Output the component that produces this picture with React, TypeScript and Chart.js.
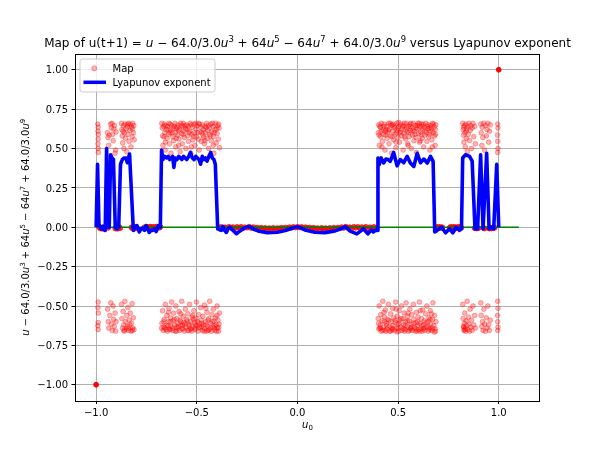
import React, { useEffect, useRef } from "react";
import { Chart, registerables } from "chart.js";
Chart.register(...registerables);

// ---------- axis ticks ----------
const xTickValues = [-1.0, -0.5, 0.0, 0.5, 1.0];
const xTickLabels = ["−1.0", "−0.5", "0.0", "0.5", "1.0"];
const yTickValues = [-1.0, -0.75, -0.5, -0.25, 0.0, 0.25, 0.5, 0.75, 1.0];
const yTickLabels = ["−1.00", "−0.75", "−0.50", "−0.25", "0.00", "0.25", "0.50", "0.75", "1.00"];

// ---------- Map scatter (u0, u_n) ----------
const mapUpperLeft: number[][] = [
  [-0.992,0.655],[-0.99,0.635],[-0.991,0.61],[-0.989,0.59],[-0.99,0.56],[-0.991,0.53],[-0.99,0.50],[-0.989,0.475],
  [-0.944,0.60],[-0.941,0.57],[-0.938,0.52],[-0.935,0.585],[-0.928,0.655],[-0.925,0.63],[-0.921,0.66],[-0.918,0.59],
  [-0.915,0.55],[-0.912,0.625],[-0.909,0.645],[-0.906,0.47],[-0.903,0.49],[-0.901,0.605],
  [-0.874,0.66],[-0.872,0.62],[-0.870,0.58],[-0.868,0.535],[-0.865,0.645],[-0.862,0.50],[-0.860,0.60],[-0.857,0.655],
  [-0.854,0.565],[-0.851,0.625],[-0.848,0.48],[-0.845,0.64],[-0.842,0.59],[-0.839,0.66],[-0.836,0.545],[-0.833,0.615],
  [-0.830,0.65],[-0.827,0.51],[-0.824,0.635],[-0.821,0.575],[-0.818,0.66],[-0.815,0.60],[-0.813,0.645],[-0.811,0.555],
  [-0.866,0.61],[-0.843,0.655],[-0.82,0.625],
  [-0.672,0.63],[-0.670,0.58],[-0.668,0.52],[-0.661,0.655],[-0.659,0.60],[-0.657,0.49],[-0.651,0.62],[-0.648,0.565],
  [-0.646,0.64],[-0.640,0.59],[-0.638,0.66],[-0.636,0.53],[-0.630,0.615],[-0.628,0.47],[-0.625,0.645],[-0.619,0.575],
  [-0.617,0.63],[-0.615,0.55],[-0.609,0.66],[-0.606,0.60],[-0.604,0.51],[-0.598,0.635],[-0.596,0.585],[-0.593,0.65],
  [-0.588,0.56],[-0.585,0.62],[-0.583,0.48],[-0.577,0.645],[-0.575,0.595],[-0.572,0.53],[-0.567,0.66],[-0.564,0.61],
  [-0.562,0.57],[-0.556,0.625],[-0.554,0.50],[-0.551,0.65],[-0.546,0.58],[-0.543,0.64],[-0.541,0.545],[-0.535,0.61],
  [-0.533,0.66],[-0.530,0.47],[-0.525,0.59],[-0.522,0.635],[-0.520,0.555],[-0.514,0.655],[-0.512,0.60],[-0.509,0.52],
  [-0.504,0.625],[-0.501,0.575],[-0.499,0.645],[-0.493,0.56],[-0.491,0.66],[-0.488,0.49],[-0.483,0.605],[-0.480,0.635],
  [-0.478,0.545],[-0.472,0.65],[-0.470,0.585],[-0.467,0.62],[-0.462,0.53],[-0.459,0.64],[-0.457,0.60],[-0.451,0.66],
  [-0.449,0.565],[-0.446,0.615],[-0.441,0.50],[-0.438,0.63],[-0.436,0.59],[-0.430,0.655],[-0.428,0.55],[-0.425,0.605],
  [-0.420,0.64],[-0.417,0.575],[-0.415,0.47],[-0.409,0.62],[-0.407,0.66],[-0.404,0.535],[-0.399,0.595],[-0.396,0.645],
  [-0.393,0.56],[-0.389,0.63],[-0.387,0.505],
  [-0.665,0.64],[-0.633,0.60],[-0.601,0.625],[-0.570,0.64],[-0.538,0.60],[-0.506,0.66],[-0.475,0.60],[-0.443,0.645],[-0.412,0.60],
  [-0.674,0.66],[-0.663,0.575],[-0.654,0.645],[-0.643,0.62],[-0.632,0.655],[-0.622,0.60],[-0.612,0.64],[-0.602,0.565],
  [-0.591,0.615],[-0.580,0.66],[-0.569,0.59],[-0.559,0.645],[-0.548,0.62],[-0.528,0.65],[-0.517,0.575],[-0.496,0.60],
  [-0.486,0.655],[-0.465,0.57],[-0.454,0.635],[-0.433,0.58],[-0.422,0.66],[-0.401,0.625],[-0.391,0.655],[-0.656,0.54],
  [-0.590,0.52],[-0.527,0.51],[-0.460,0.55],[-0.418,0.52],
];

const mapUpperRight: number[][] = [
  [0.402,0.60],[0.404,0.65],[0.407,0.52],[0.412,0.635],[0.414,0.575],[0.417,0.66],[0.422,0.545],[0.425,0.62],
  [0.427,0.59],[0.432,0.655],[0.435,0.49],[0.437,0.61],[0.443,0.64],[0.445,0.565],[0.448,0.60],[0.453,0.66],
  [0.455,0.53],[0.458,0.625],[0.463,0.58],[0.466,0.645],[0.468,0.47],[0.473,0.61],[0.476,0.655],[0.478,0.555],
  [0.484,0.63],[0.486,0.59],[0.489,0.505],[0.494,0.66],[0.496,0.615],[0.499,0.57],[0.504,0.64],[0.507,0.54],
  [0.509,0.60],[0.514,0.655],[0.517,0.58],[0.519,0.625],[0.525,0.49],[0.527,0.645],[0.530,0.595],[0.535,0.62],
  [0.537,0.56],[0.540,0.66],[0.545,0.605],[0.548,0.53],[0.550,0.64],[0.555,0.575],[0.558,0.655],[0.561,0.615],
  [0.566,0.50],[0.568,0.63],[0.571,0.585],[0.576,0.66],[0.579,0.55],[0.581,0.61],[0.586,0.645],[0.589,0.57],
  [0.591,0.475],[0.597,0.625],[0.599,0.66],[0.602,0.595],[0.607,0.54],[0.609,0.64],[0.612,0.605],[0.617,0.655],
  [0.620,0.565],[0.622,0.62],[0.627,0.51],[0.630,0.635],[0.632,0.585],[0.638,0.66],[0.640,0.60],[0.643,0.545],
  [0.648,0.625],[0.650,0.65],[0.653,0.575],[0.658,0.49],[0.661,0.61],[0.663,0.645],[0.668,0.555],[0.671,0.66],
  [0.674,0.60],[0.679,0.635],[0.681,0.58],[0.684,0.52],[0.688,0.65],
  [0.410,0.64],[0.440,0.62],[0.470,0.65],[0.500,0.63],[0.530,0.66],[0.560,0.64],[0.590,0.63],[0.620,0.64],[0.655,0.63],[0.685,0.62],
  [0.405,0.585],[0.416,0.61],[0.429,0.64],[0.439,0.585],[0.451,0.615],[0.461,0.66],[0.471,0.575],[0.481,0.64],
  [0.492,0.60],[0.502,0.665],[0.512,0.605],[0.522,0.64],[0.533,0.575],[0.543,0.63],[0.553,0.60],[0.564,0.66],
  [0.574,0.615],[0.584,0.59],[0.595,0.645],[0.605,0.66],[0.615,0.585],[0.625,0.655],[0.635,0.61],[0.646,0.64],
  [0.656,0.59],[0.666,0.625],[0.676,0.655],[0.686,0.59],[0.420,0.51],[0.490,0.54],[0.550,0.52],[0.610,0.55],[0.670,0.51],
  [0.821,0.66],[0.823,0.62],[0.825,0.585],[0.827,0.54],[0.829,0.645],[0.832,0.60],[0.834,0.51],[0.836,0.655],
  [0.839,0.565],[0.841,0.625],[0.844,0.48],[0.846,0.64],[0.849,0.59],[0.852,0.66],[0.855,0.55],[0.858,0.615],
  [0.861,0.645],[0.865,0.50],[0.868,0.63],[0.872,0.66],[0.876,0.575],[0.880,0.64],[0.884,0.53],[0.826,0.635],[0.838,0.61],
  [0.911,0.655],[0.913,0.60],[0.916,0.52],[0.918,0.635],[0.921,0.57],[0.925,0.66],[0.930,0.49],[0.934,0.645],
  [0.938,0.58],[0.942,0.62],[0.946,0.66],[0.950,0.54],[0.954,0.61],[0.958,0.65],
  [0.995,0.655],[0.996,0.63],[0.994,0.585],[0.995,0.545],[0.996,0.50],[0.995,0.475],
];

const mapLowerLeft: number[][] = [
  [-0.99,-0.475],[-0.991,-0.51],[-0.989,-0.545],[-0.99,-0.605],[-0.992,-0.625],[-0.99,-0.65],
  [-0.943,-0.52],[-0.94,-0.60],[-0.937,-0.64],[-0.932,-0.56],[-0.927,-0.48],[-0.924,-0.615],[-0.92,-0.655],
  [-0.916,-0.50],[-0.913,-0.585],[-0.91,-0.63],[-0.906,-0.545],[-0.903,-0.66],[-0.901,-0.60],
  [-0.874,-0.49],[-0.872,-0.58],[-0.869,-0.64],[-0.866,-0.535],[-0.863,-0.62],[-0.86,-0.66],[-0.857,-0.47],
  [-0.854,-0.60],[-0.851,-0.645],[-0.848,-0.56],[-0.845,-0.63],[-0.842,-0.51],[-0.839,-0.655],[-0.836,-0.59],
  [-0.833,-0.62],[-0.83,-0.545],[-0.827,-0.66],[-0.824,-0.61],[-0.821,-0.485],[-0.818,-0.64],[-0.815,-0.575],
  [-0.812,-0.65],[-0.862,-0.655],[-0.84,-0.64],[-0.82,-0.655],
  [-0.673,-0.61],[-0.670,-0.53],[-0.667,-0.655],[-0.662,-0.585],[-0.659,-0.64],[-0.656,-0.49],[-0.651,-0.625],
  [-0.649,-0.56],[-0.646,-0.66],[-0.641,-0.60],[-0.638,-0.515],[-0.636,-0.645],[-0.630,-0.575],[-0.628,-0.63],
  [-0.625,-0.475],[-0.620,-0.655],[-0.617,-0.595],[-0.615,-0.545],[-0.610,-0.62],[-0.607,-0.66],[-0.604,-0.50],
  [-0.599,-0.58],[-0.596,-0.64],[-0.594,-0.61],[-0.588,-0.535],[-0.586,-0.655],[-0.583,-0.59],[-0.578,-0.625],
  [-0.575,-0.47],[-0.573,-0.645],[-0.567,-0.565],[-0.565,-0.605],[-0.562,-0.66],[-0.557,-0.52],[-0.554,-0.635],
  [-0.551,-0.585],[-0.546,-0.655],[-0.544,-0.55],[-0.541,-0.615],[-0.536,-0.49],[-0.533,-0.645],[-0.530,-0.60],
  [-0.525,-0.66],[-0.523,-0.57],[-0.520,-0.63],[-0.515,-0.53],[-0.512,-0.605],[-0.509,-0.65],[-0.504,-0.58],
  [-0.502,-0.475],[-0.499,-0.625],[-0.494,-0.66],[-0.491,-0.555],[-0.488,-0.61],[-0.483,-0.64],[-0.481,-0.51],
  [-0.478,-0.59],[-0.472,-0.655],[-0.470,-0.565],[-0.467,-0.62],[-0.462,-0.495],[-0.460,-0.645],[-0.457,-0.60],
  [-0.452,-0.66],[-0.449,-0.54],[-0.446,-0.63],[-0.441,-0.58],[-0.439,-0.65],[-0.436,-0.47],[-0.431,-0.61],
  [-0.428,-0.66],[-0.425,-0.555],[-0.420,-0.635],[-0.418,-0.52],[-0.415,-0.595],[-0.410,-0.655],[-0.407,-0.575],
  [-0.404,-0.62],[-0.399,-0.50],[-0.397,-0.64],[-0.394,-0.59],[-0.389,-0.615],[-0.387,-0.545],
  [-0.664,-0.635],[-0.633,-0.65],[-0.601,-0.635],[-0.570,-0.62],[-0.539,-0.655],[-0.507,-0.64],[-0.476,-0.63],
  [-0.444,-0.655],[-0.413,-0.64],[-0.392,-0.66],
  [-0.675,-0.64],[-0.664,-0.60],[-0.653,-0.65],[-0.643,-0.625],[-0.632,-0.60],[-0.622,-0.64],[-0.612,-0.585],
  [-0.601,-0.66],[-0.591,-0.63],[-0.580,-0.60],[-0.569,-0.645],[-0.559,-0.615],[-0.548,-0.595],[-0.538,-0.625],
  [-0.527,-0.645],[-0.517,-0.585],[-0.506,-0.62],[-0.496,-0.60],[-0.486,-0.635],[-0.475,-0.61],[-0.464,-0.66],
  [-0.454,-0.62],[-0.443,-0.59],[-0.433,-0.64],[-0.423,-0.60],[-0.412,-0.625],[-0.402,-0.66],[-0.391,-0.635],
  [-0.640,-0.54],[-0.580,-0.55],[-0.520,-0.56],[-0.455,-0.515],[-0.400,-0.56],
];

const mapLowerRight: number[][] = [
  [0.401,-0.58],[0.404,-0.645],[0.406,-0.50],[0.411,-0.62],[0.414,-0.555],[0.416,-0.66],[0.421,-0.595],[0.424,-0.47],
  [0.427,-0.635],[0.432,-0.57],[0.434,-0.655],[0.437,-0.525],[0.442,-0.61],[0.445,-0.645],[0.447,-0.585],[0.452,-0.49],
  [0.455,-0.63],[0.458,-0.66],[0.463,-0.55],[0.465,-0.60],[0.468,-0.64],[0.473,-0.515],[0.475,-0.625],[0.478,-0.575],
  [0.483,-0.655],[0.486,-0.605],[0.488,-0.475],[0.494,-0.64],[0.496,-0.565],[0.499,-0.615],[0.504,-0.66],[0.506,-0.53],
  [0.509,-0.59],[0.514,-0.635],[0.517,-0.50],[0.519,-0.655],[0.524,-0.58],[0.527,-0.62],[0.530,-0.545],[0.535,-0.65],
  [0.537,-0.60],[0.540,-0.48],[0.545,-0.63],[0.547,-0.565],[0.550,-0.66],[0.555,-0.595],[0.558,-0.52],[0.560,-0.64],
  [0.565,-0.615],[0.568,-0.555],[0.571,-0.655],[0.576,-0.49],[0.578,-0.585],[0.581,-0.635],[0.586,-0.66],[0.589,-0.605],
  [0.591,-0.54],[0.596,-0.625],[0.599,-0.57],[0.601,-0.65],[0.606,-0.475],[0.609,-0.61],[0.612,-0.645],[0.617,-0.58],
  [0.619,-0.66],[0.622,-0.525],[0.627,-0.62],[0.630,-0.595],[0.632,-0.655],[0.637,-0.55],[0.640,-0.635],[0.643,-0.50],
  [0.648,-0.60],[0.650,-0.66],[0.653,-0.575],[0.658,-0.64],[0.660,-0.53],[0.663,-0.615],[0.668,-0.655],[0.671,-0.585],
  [0.673,-0.48],[0.678,-0.625],[0.681,-0.56],[0.684,-0.645],[0.688,-0.60],
  [0.409,-0.64],[0.440,-0.66],[0.470,-0.65],[0.501,-0.64],[0.532,-0.66],[0.563,-0.645],[0.594,-0.66],[0.625,-0.645],
  [0.656,-0.65],[0.686,-0.66],
  [0.403,-0.61],[0.413,-0.64],[0.423,-0.655],[0.433,-0.60],[0.444,-0.625],[0.454,-0.59],[0.464,-0.66],[0.474,-0.645],
  [0.485,-0.59],[0.495,-0.665],[0.505,-0.61],[0.515,-0.58],[0.526,-0.645],[0.536,-0.625],[0.546,-0.595],[0.557,-0.655],
  [0.567,-0.635],[0.577,-0.61],[0.588,-0.645],[0.598,-0.60],[0.608,-0.66],[0.618,-0.625],[0.629,-0.64],[0.639,-0.605],
  [0.649,-0.63],[0.659,-0.585],[0.670,-0.64],[0.680,-0.665],[0.430,-0.54],[0.490,-0.52],[0.550,-0.545],[0.610,-0.53],[0.665,-0.55],
  [0.821,-0.49],[0.823,-0.58],[0.825,-0.63],[0.827,-0.655],[0.829,-0.61],[0.831,-0.545],[0.834,-0.64],[0.836,-0.66],
  [0.838,-0.595],[0.840,-0.625],[0.843,-0.47],[0.846,-0.65],[0.849,-0.57],[0.852,-0.615],[0.855,-0.66],[0.858,-0.52],
  [0.861,-0.635],[0.865,-0.59],[0.868,-0.655],[0.872,-0.50],[0.876,-0.62],[0.880,-0.56],[0.884,-0.64],[0.830,-0.65],[0.826,-0.635],
  [0.911,-0.48],[0.913,-0.56],[0.916,-0.63],[0.919,-0.60],[0.922,-0.655],[0.926,-0.52],[0.930,-0.615],[0.934,-0.66],
  [0.938,-0.575],[0.942,-0.64],[0.946,-0.50],[0.950,-0.62],[0.954,-0.655],[0.958,-0.59],
  [0.995,-0.47],[0.996,-0.515],[0.994,-0.56],[0.995,-0.60],[0.996,-0.635],[0.995,-0.655],
];

// orbits settling near zero (many iterates stacked)
const mapNearZero: number[][] = [
  [-0.985,0.0],[-0.98,-0.008],[-0.975,-0.004],[-0.97,-0.01],[-0.965,-0.006],[-0.96,0.002],[-0.955,-0.008],
  [-0.94,-0.004],[-0.905,-0.008],[-0.9,0.0],[-0.895,-0.01],[-0.89,-0.004],[-0.885,0.002],[-0.88,-0.006],
  [-0.825,0.0],[-0.82,-0.008],[-0.815,-0.004],[-0.81,-0.01],[-0.805,0.002],[-0.8,-0.006],
  [-0.76,0.0],[-0.755,-0.008],[-0.75,0.003],[-0.745,-0.005],[-0.74,0.002],[-0.735,-0.008],[-0.73,0.004],
  [-0.725,-0.003],[-0.72,0.002],[-0.715,-0.006],[-0.71,0.003],[-0.705,-0.002],[-0.7,0.004],[-0.695,-0.005],
  [-0.69,0.002],[-0.685,-0.003],[-0.68,0.003],
  [-0.39,-0.004],[-0.38,0.002],[-0.37,-0.006],[-0.36,0.0],[-0.35,-0.008],[-0.34,0.003],[-0.33,-0.003],[-0.32,0.001],
  [-0.31,-0.006],[-0.3,0.002],[-0.29,-0.004],[-0.28,0.003],[-0.27,-0.007],[-0.26,0.0],[-0.25,-0.003],[-0.24,0.004],
  [-0.23,-0.005],[-0.22,0.001],[-0.21,-0.006],[-0.2,-0.002],[-0.19,-0.008],[-0.18,-0.003],[-0.17,-0.009],[-0.16,-0.004],
  [-0.15,-0.01],[-0.14,-0.005],[-0.13,-0.009],[-0.12,-0.004],[-0.11,-0.01],[-0.1,-0.005],[-0.09,-0.008],[-0.08,-0.003],
  [-0.07,-0.007],[-0.06,-0.002],[-0.05,-0.006],[-0.04,0.0],[-0.03,-0.004],[-0.02,0.002],[-0.01,-0.002],[0.0,0.003],
  [0.01,-0.002],[0.02,0.002],[0.03,-0.004],[0.04,0.0],[0.05,-0.006],[0.06,-0.002],[0.07,-0.007],[0.08,-0.003],
  [0.09,-0.008],[0.1,-0.005],[0.11,-0.01],[0.12,-0.004],[0.13,-0.009],[0.14,-0.005],[0.15,-0.01],[0.16,-0.004],
  [0.17,-0.009],[0.18,-0.003],[0.19,-0.008],[0.2,-0.002],[0.21,-0.006],[0.22,0.001],[0.23,-0.005],[0.24,0.004],
  [0.25,-0.003],[0.26,0.0],[0.27,-0.007],[0.28,0.003],[0.29,-0.004],[0.3,0.002],[0.31,-0.006],[0.32,0.001],
  [0.33,-0.003],[0.34,0.003],[0.35,-0.008],[0.36,0.0],[0.37,-0.006],[0.38,0.002],[0.39,-0.004],
  [0.69,0.002],[0.695,-0.005],[0.7,0.003],[0.705,-0.003],[0.71,0.002],[0.715,-0.006],[0.72,0.0],
  [0.755,-0.004],[0.76,0.002],[0.765,-0.006],[0.77,0.003],[0.775,-0.003],[0.78,0.002],[0.785,-0.007],[0.79,0.001],
  [0.795,-0.004],[0.8,0.003],[0.805,-0.005],[0.81,0.002],[0.815,-0.003],
  [0.88,-0.006],[0.885,0.0],[0.89,-0.008],[0.895,-0.003],[0.9,-0.006],[0.925,-0.004],[0.93,-0.008],
  [0.95,-0.005],[0.955,-0.009],[0.96,-0.003],[0.965,-0.007],[0.97,-0.002],[0.975,-0.006],[0.98,-0.003],
];

const mapFixedPoints: number[][] = [[-1.0, -1.0], [1.0, 1.0]];

// ---------- Lyapunov exponent ----------
const lyapU0 = [
  -1.0, -0.993, -0.986, -0.98, -0.974, -0.968, -0.962, -0.955, -0.948, -0.941, -0.935, -0.928, -0.921, -0.914,
  -0.905, -0.897, -0.888, -0.879, -0.87, -0.862, -0.853, -0.845, -0.834, -0.815, -0.806, -0.797, -0.786, -0.777,
  -0.769, -0.76, -0.752, -0.744, -0.736, -0.728, -0.719, -0.71, -0.702, -0.691, -0.681,
  -0.675, -0.668, -0.66, -0.65, -0.642, -0.635, -0.627, -0.62, -0.614, -0.607, -0.598, -0.59, -0.582, -0.574,
  -0.566, -0.558, -0.55, -0.54, -0.531, -0.522, -0.513, -0.505, -0.497, -0.489, -0.481, -0.473, -0.465, -0.457,
  -0.449, -0.44, -0.431, -0.423, -0.415, -0.408,
  -0.396, -0.387, -0.378, -0.37, -0.362, -0.353, -0.345, -0.337, -0.32, -0.303, -0.287, -0.27, -0.254, -0.237,
  -0.217, -0.19, -0.15, -0.1, -0.06, -0.03, 0.0, 0.037, 0.087, 0.137, 0.187, 0.22, 0.237,
  0.262, 0.295, 0.328, 0.35, 0.367, 0.377, 0.387, 0.396,
  0.4, 0.406, 0.416, 0.428, 0.44, 0.45, 0.461, 0.478, 0.495, 0.511, 0.528, 0.545, 0.561, 0.578, 0.595, 0.611,
  0.628, 0.645, 0.661, 0.674,
  0.682, 0.694, 0.716, 0.736, 0.756, 0.772, 0.789, 0.805, 0.815,
  0.821, 0.835, 0.855, 0.868, 0.882, 0.895, 0.91, 0.922, 0.94, 0.952, 0.962, 0.975, 0.99, 1.0,
];
const lyapExponent = [
  0.0, 0.40, 0.02, 0.0, -0.01, 0.005, -0.015, -0.02, 0.50, 0.0, 0.0, 0.46, 0.44, 0.43,
  0.0, -0.01, 0.0, 0.40, 0.43, 0.44, 0.44, 0.41, 0.465, -0.02, 0.005, 0.01, -0.03, -0.01,
  -0.005, -0.02, 0.01, -0.01, -0.033, -0.02, -0.02, -0.01, -0.027, 0.01, 0.0,
  0.49, 0.43, 0.45, 0.44, 0.45, 0.43, 0.44, 0.45, 0.38, 0.44, 0.43, 0.45, 0.44, 0.43,
  0.45, 0.44, 0.43, 0.45, 0.475, 0.44, 0.43, 0.45, 0.44, 0.43, 0.40, 0.45, 0.43, 0.44,
  0.42, 0.45, 0.475, 0.44, 0.43, 0.40,
  -0.01, -0.016, -0.02, 0.005, -0.02, -0.033, -0.01, 0.0, -0.02, -0.041, -0.025, -0.01, 0.0, 0.005,
  -0.013, -0.025, -0.034, -0.032, -0.021, -0.008, 0.004, -0.017, -0.032, -0.034, -0.023, -0.008, 0.004,
  -0.025, -0.042, -0.01, -0.042, -0.017, -0.03, -0.02, -0.02,
  0.44, 0.397, 0.44, 0.408, 0.433, 0.43, 0.418, 0.475, 0.39, 0.43, 0.41, 0.45, 0.408, 0.386, 0.47, 0.41,
  0.433, 0.408, 0.45, 0.418,
  -0.03, -0.02, 0.0, -0.035, -0.01, -0.035, 0.0, -0.02, -0.01,
  0.44, 0.46, 0.45, 0.42, -0.01, -0.01, 0.46, -0.01, 0.47, -0.01, 0.0, -0.01, 0.40, 0.0,
];

// ---------- zero reference line ----------
const zeroLineU0 = [-1.0, 1.1];
const zeroLineVal = [0.0, 0.0];

// ---------- text ----------
type Seg = { t: string; it?: boolean; sup?: boolean; sub?: boolean };
const polySegs: Seg[] = [
  { t: "u", it: true }, { t: " − 64.0/3.0" }, { t: "u", it: true }, { t: "3", sup: true },
  { t: " + 64" }, { t: "u", it: true }, { t: "5", sup: true },
  { t: " − 64" }, { t: "u", it: true }, { t: "7", sup: true },
  { t: " + 64.0/3.0" }, { t: "u", it: true }, { t: "9", sup: true },
];
const titleSegs: Seg[] = [{ t: "Map of u(t+1) = " }, ...polySegs, { t: " versus Lyapunov exponent" }];
const xLabelSegs: Seg[] = [{ t: "u", it: true }, { t: "0", sub: true }];
const legendLabels = ["Map", "Lyapunov exponent"];

const FONT = '"DejaVu Sans"';
const segFont = (s: Seg, size: number) =>
  `${s.it ? "italic " : ""}${s.sup || s.sub ? size * 0.7 : size}px ${FONT}`;
const richWidth = (ctx: CanvasRenderingContext2D, segs: Seg[], size: number) => {
  let w = 0;
  for (const s of segs) { ctx.font = segFont(s, size); w += ctx.measureText(s.t).width; }
  return w;
};
const drawRich = (ctx: CanvasRenderingContext2D, segs: Seg[], size: number, x: number, y: number) => {
  let cx = x;
  for (const s of segs) {
    ctx.font = segFont(s, size);
    const dy = s.sup ? -size * 0.42 : s.sub ? size * 0.22 : 0;
    ctx.fillText(s.t, cx, y + dy);
    cx += ctx.measureText(s.t).width;
  }
};

const decorPlugin = {
  id: "decor",
  afterDatasetsDraw(chart: any) {
    const ctx: CanvasRenderingContext2D = chart.ctx;
    const a = chart.chartArea;
    ctx.save();
    ctx.strokeStyle = "#000";
    ctx.lineWidth = 1;
    ctx.strokeRect(Math.round(a.left) + 0.5, Math.round(a.top) + 0.5, Math.round(a.right - a.left) - 1, Math.round(a.bottom - a.top));
    ctx.restore();
  },
  afterDraw(chart: any) {
    const ctx: CanvasRenderingContext2D = chart.ctx;
    const a = chart.chartArea;
    const xs = chart.scales.x, ys = chart.scales.y;
    ctx.save();
    ctx.fillStyle = "#000";
    ctx.textBaseline = "alphabetic";
    const tickSize = 10;
    ctx.font = `${tickSize}px ${FONT}`;
    ctx.textAlign = "center";
    xTickValues.forEach((v, i) => ctx.fillText(xTickLabels[i], xs.getPixelForValue(v), 415.5));
    ctx.textAlign = "right";
    yTickValues.forEach((v, i) => ctx.fillText(yTickLabels[i], a.left - 7, ys.getPixelForValue(v) + 3.7));
    ctx.textAlign = "left";

    // title
    const cx = (a.left + a.right) / 2;
    const tw = richWidth(ctx, titleSegs, 12);
    drawRich(ctx, titleSegs, 12, cx - tw / 2, 47);

    // x label
    const xw = richWidth(ctx, xLabelSegs, tickSize);
    drawRich(ctx, xLabelSegs, tickSize, cx - xw / 2, 428);

    // y label (rotated)
    const yw = richWidth(ctx, polySegs, tickSize);
    ctx.save();
    ctx.translate(29, (a.top + a.bottom) / 2);
    ctx.rotate(-Math.PI / 2);
    drawRich(ctx, polySegs, tickSize, -yw / 2, 0);
    ctx.restore();

    // legend
    const lx = 80, ly = 59, lw = 135, lh = 33;
    ctx.beginPath();
    const r = 2.5;
    ctx.moveTo(lx + r, ly);
    ctx.arcTo(lx + lw, ly, lx + lw, ly + lh, r);
    ctx.arcTo(lx + lw, ly + lh, lx, ly + lh, r);
    ctx.arcTo(lx, ly + lh, lx, ly, r);
    ctx.arcTo(lx, ly, lx + lw, ly, r);
    ctx.closePath();
    ctx.fillStyle = "rgba(255,255,255,0.8)";
    ctx.fill();
    ctx.strokeStyle = "#cccccc";
    ctx.lineWidth = 1;
    ctx.stroke();

    ctx.beginPath();
    ctx.arc(94.3, 68.3, 2.6, 0, Math.PI * 2);
    ctx.fillStyle = "rgba(255,0,0,0.3)";
    ctx.fill();
    ctx.strokeStyle = "rgba(255,0,0,0.3)";
    ctx.stroke();

    ctx.beginPath();
    ctx.moveTo(83.5, 82.3);
    ctx.lineTo(106, 82.3);
    ctx.strokeStyle = "#0000ff";
    ctx.lineWidth = 3.5;
    ctx.stroke();

    ctx.fillStyle = "#000";
    ctx.font = `${tickSize}px ${FONT}`;
    ctx.fillText(legendLabels[0], 112.5, 71.8);
    ctx.fillText(legendLabels[1], 112.5, 85.8);
    ctx.restore();
  },
};

const toPts = (arr: number[][]) => arr.map((p) => ({ x: p[0], y: p[1] }));

export default function App() {
  const ref = useRef<HTMLCanvasElement | null>(null);
  useEffect(() => {
    if (!ref.current) return;
    const mapStyle = {
      backgroundColor: "rgba(255,0,0,0.3)",
      borderColor: "rgba(255,0,0,0.3)",
      borderWidth: 1,
      pointRadius: 2.4,
      showLine: false,
      order: 3,
    };
    const gridCommon = {
      color: "#b0b0b0",
      lineWidth: 1,
      tickColor: "#000",
      tickLength: 3.5,
      tickWidth: 1,
      drawTicks: true,
    };
    const chart = new Chart(ref.current, {
      type: "scatter",
      data: {
        datasets: [
          {
            label: legendLabels[1],
            data: lyapU0.map((x, i) => ({ x, y: lyapExponent[i] })),
            showLine: true,
            borderColor: "#0000ff",
            backgroundColor: "#0000ff",
            borderWidth: 3.6,
            pointRadius: 0,
            borderJoinStyle: "round",
            tension: 0,
            order: 0,
          },
          {
            label: "zero",
            data: zeroLineU0.map((x, i) => ({ x, y: zeroLineVal[i] })),
            showLine: true,
            borderColor: "#008000",
            borderWidth: 1.5,
            pointRadius: 0,
            order: 1,
          },
          { label: legendLabels[0], data: toPts(mapUpperLeft), ...mapStyle },
          { label: legendLabels[0], data: toPts(mapUpperRight), ...mapStyle },
          { label: legendLabels[0], data: toPts(mapLowerLeft), ...mapStyle },
          { label: legendLabels[0], data: toPts(mapLowerRight), ...mapStyle },
          {
            label: legendLabels[0],
            data: toPts(mapNearZero),
            ...mapStyle,
            backgroundColor: "rgba(255,0,0,0.75)",
            borderColor: "rgba(255,0,0,0.75)",
            order: 2,
          },
          {
            label: legendLabels[0],
            data: toPts(mapFixedPoints),
            ...mapStyle,
            backgroundColor: "#ff0000",
            borderColor: "#ff0000",
            order: 2,
          },
        ],
      },
      options: {
        animation: false,
        responsive: false,
        events: [],
        layout: { padding: { left: 0, top: 54, right: 60, bottom: 0 } },
        plugins: { legend: { display: false }, title: { display: false }, tooltip: { enabled: false } },
        scales: {
          x: {
            type: "linear",
            min: -1.105,
            max: 1.205,
            afterBuildTicks: (s: any) => { s.ticks = xTickValues.map((v) => ({ value: v })); },
            afterFit: (s: any) => { s.height = 49.5; },
            ticks: { display: false },
            grid: gridCommon,
            border: { display: false },
          },
          y: {
            type: "linear",
            min: -1.1,
            max: 1.1,
            afterBuildTicks: (s: any) => { s.ticks = yTickValues.map((v) => ({ value: v })); },
            afterFit: (s: any) => { s.width = 75; },
            ticks: { display: false },
            grid: gridCommon,
            border: { display: false },
          },
        },
      } as any,
      plugins: [decorPlugin],
    });
    return () => chart.destroy();
  }, []);
  return (
    <div style={{ position: "fixed", left: 0, top: 0, width: 600, height: 450, background: "#fff" }}>
      <canvas ref={ref} width={600} height={450} style={{ display: "block", width: 600, height: 450 }} />
    </div>
  );
}
